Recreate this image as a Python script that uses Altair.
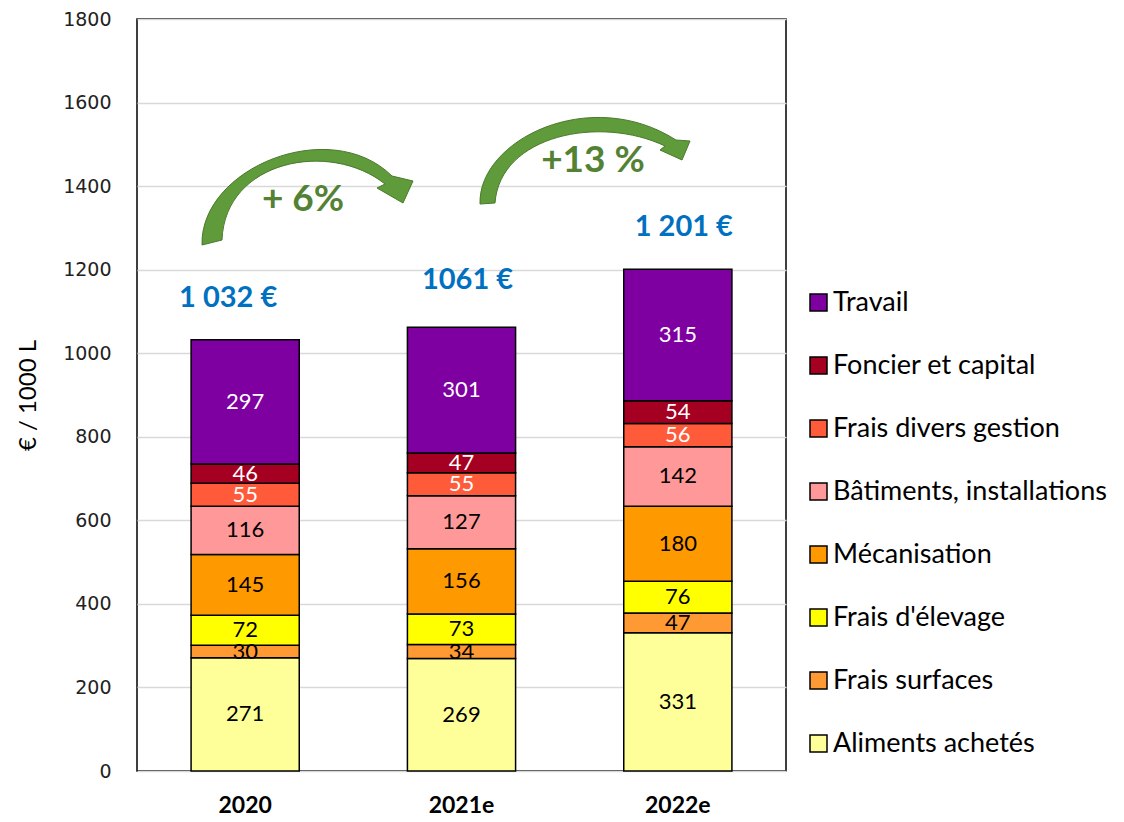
import altair as alt
import pandas as pd

years = ["2020", "2021e", "2022e"]
categories = ["Aliments achetés", "Frais surfaces", "Frais d'élevage", "Mécanisation",
              "Bâtiments, installations", "Frais divers gestion", "Foncier et capital", "Travail"]
aliments = [271, 269, 331]
surfaces = [30, 34, 47]
elevage = [72, 73, 76]
mecanisation = [145, 156, 180]
batiments = [116, 127, 142]
divers = [55, 55, 56]
foncier = [46, 47, 54]
travail = [297, 301, 315]
series = [aliments, surfaces, elevage, mecanisation, batiments, divers, foncier, travail]
colors = ["#FFFF99", "#FF9933", "#FFFF00", "#FF9900", "#FF9999", "#FF5B3B", "#A50021", "#7E00A1"]
text_colors = ["black", "black", "black", "black", "black", "white", "white", "white"]
totals = [1032, 1061, 1201]
total_labels = ["1 032 €", "1061 €", "1 201 €"]
growth_labels = ["+ 6%", "+13 %"]

rows = []
for ci, (cat, vals) in enumerate(zip(categories, series)):
    for yr, v in zip(years, vals):
        rows.append({"year": yr, "cat": cat, "value": v, "order": ci, "tc": text_colors[ci]})
df = pd.DataFrame(rows)
df_tot = pd.DataFrame({"year": years, "total": totals, "label": total_labels})

x_enc = alt.X("year:N", sort=years,
              scale=alt.Scale(paddingInner=0.5, paddingOuter=0.25),
              axis=alt.Axis(title=None, labelAngle=0, labelFont="Lato", labelFontWeight="bold",
                            labelFontSize=23, labelColor="black", ticks=False, domain=False,
                            labelPadding=23, grid=False))
y_scale = alt.Scale(domain=[0, 1800])

bars = alt.Chart(df).mark_bar(stroke="black", strokeWidth=1.5).encode(
    x=x_enc,
    y=alt.Y("value:Q", stack="zero", scale=y_scale,
            axis=alt.Axis(values=list(range(0, 1801, 200)), format="d", title="€ / 1000 L",
                          titleFont="Lato", titleFontSize=24, titleFontWeight="normal",
                          titleColor="black", titleAngle=-90, titleX=-109, titleY=376,
                          titleAlign="center", titleBaseline="middle",
                          labelFont="DejaVu Sans", labelFontSize=19, labelColor="#222222",
                          labelPadding=26, ticks=False, domain=False, grid=True,
                          gridColor="#D9D9D9", gridWidth=1.3)),
    color=alt.Color("cat:N",
                    scale=alt.Scale(domain=list(reversed(categories)), range=list(reversed(colors))),
                    legend=alt.Legend(title=None, orient="none", legendX=668, legendY=270,
                                      padding=0, symbolType="square", symbolSize=289,
                                      symbolStrokeColor="black", symbolStrokeWidth=1.5,
                                      symbolOpacity=1, labelFont="Lato", labelFontSize=27,
                                      labelColor="black", labelOffset=1, rowPadding=35.0,
                                      labelLimit=400)),
    order=alt.Order("order:Q", sort="ascending"),
)

seg_labels = alt.Chart(df).transform_window(
    cum="sum(value)", groupby=["year"], sort=[alt.SortField("order", order="ascending")],
    frame=[None, 0]
).transform_calculate(
    mid="datum.cum - datum.value / 2"
).mark_text(font="Lato", fontSize=22, baseline="middle").encode(
    x=alt.X("year:N", sort=years),
    y=alt.Y("mid:Q", scale=y_scale),
    text=alt.Text("value:Q"),
    color=alt.Color("tc:N", scale=None),
)

tot_dx = [-17, 6, 6]
tot_dy = [-42, -48, -42]
tot_layers = []
for yr, dx, dy in zip(years, tot_dx, tot_dy):
    tot_layers.append(
        alt.Chart(df_tot).transform_filter(alt.datum.year == yr).mark_text(
            font="Lato", fontSize=29, fontWeight="bold", color="#0070C0", dx=dx, dy=dy,
            baseline="middle"
        ).encode(
            x=alt.X("year:N", sort=years),
            y=alt.Y("total:Q", scale=y_scale),
            text="label:N",
        )
    )

arrow_path = ("M 65,226 C 63,149 193,96 255,157 L 276,162 L 266,184 L 240,169 L 248,165 "
              "C 193,121 88,141 85,221 Z "
              "M 343,185 C 341,121 453,66 539,121 L 553,122 L 545,141 L 523,131 L 528,127 "
              "C 463,96 363,116 358,184 Z")
arrows = alt.Chart(pd.DataFrame({"a": [0]})).mark_point(
    shape=arrow_path, size=4, filled=True, fill="#5F9A3B", stroke="#4A7A2C",
    strokeWidth=1, opacity=1
).encode(x=alt.value(0), y=alt.value(0))

g1 = alt.Chart(pd.DataFrame({"a": [0]})).mark_text(
    font="Lato", fontSize=37, fontWeight="bold", color="#548235", baseline="middle"
).encode(x=alt.value(166), y=alt.value(181), text=alt.value(growth_labels[0]))
g2 = alt.Chart(pd.DataFrame({"a": [0]})).mark_text(
    font="Lato", fontSize=37, fontWeight="bold", color="#548235", baseline="middle"
).encode(x=alt.value(456), y=alt.value(142), text=alt.value(growth_labels[1]))

chart = alt.layer(bars, seg_labels, *tot_layers, arrows, g1, g2).properties(
    width=649, height=752,
    autosize=alt.AutoSizeParams(type="none"),
    padding={"left": 129, "top": 11, "right": 330, "bottom": 48},
).configure(background="white").configure_view(stroke="black", strokeWidth=1.5)

chart.save("out.html", embed_options={"renderer": "svg", "actions": False})
